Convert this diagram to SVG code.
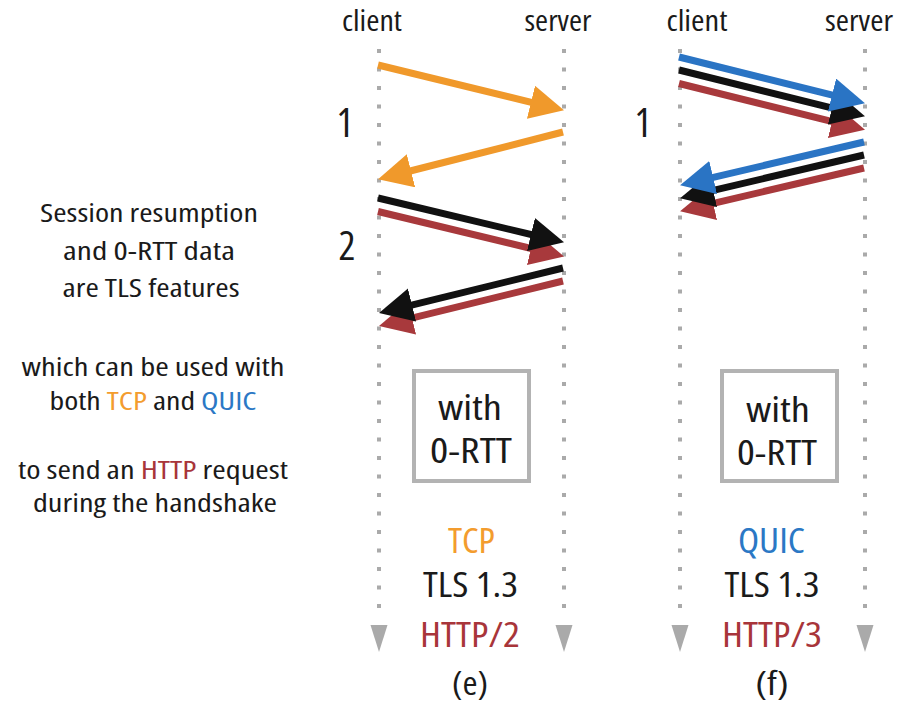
<svg xmlns="http://www.w3.org/2000/svg" width="922" height="725" viewBox="0 0 922 725">
<style>
text{font-family:"Open Sans","Liberation Sans",sans-serif;font-stretch:condensed;fill:#1a1a1a;text-anchor:middle}
.lbl{font-size:29px}
.side{font-size:26px}
.num{font-size:40px}
.big{font-size:35px}
.cap{font-size:32px}
.or{fill:#f39c2e}
.bl{fill:#2b78c5}
.rd{fill:#a8353a}
.life{stroke:#aaaaaa;stroke-width:4;stroke-dasharray:4 14.5;fill:none}
.tri{fill:#aaaaaa}
.box{fill:#ffffff;stroke:#b3b3b3;stroke-width:4}
.a{fill:none;stroke-width:7;stroke-linecap:butt}
.ao{stroke:#f0992b;marker-end:url(#hO)}
.ak{stroke:#111111;marker-end:url(#hK)}
.ar{stroke:#a8393c;marker-end:url(#hR)}
.ab{stroke:#2a74c4;marker-end:url(#hB)}
</style>
<defs>
<marker id="hO" markerUnits="userSpaceOnUse" markerWidth="36" markerHeight="36" refX="13" refY="17" orient="auto"><path d="M0,0 L34,17 L0,34 z" fill="#f0992b"/></marker>
<marker id="hK" markerUnits="userSpaceOnUse" markerWidth="36" markerHeight="36" refX="13" refY="17" orient="auto"><path d="M0,0 L34,17 L0,34 z" fill="#111111"/></marker>
<marker id="hR" markerUnits="userSpaceOnUse" markerWidth="36" markerHeight="36" refX="13" refY="17" orient="auto"><path d="M0,0 L34,17 L0,34 z" fill="#a8393c"/></marker>
<marker id="hB" markerUnits="userSpaceOnUse" markerWidth="36" markerHeight="36" refX="13" refY="17" orient="auto"><path d="M0,0 L34,17 L0,34 z" fill="#2a74c4"/></marker>
</defs>
<rect width="922" height="725" fill="#ffffff"/>

<g id="side-text" class="side">
<text x="149" y="222" textLength="218" lengthAdjust="spacingAndGlyphs">Session resumption</text>
<text x="149" y="260" textLength="172" lengthAdjust="spacingAndGlyphs">and 0-RTT data</text>
<text x="151" y="297" textLength="177" lengthAdjust="spacingAndGlyphs">are TLS features</text>
<text x="153" y="376" textLength="263" lengthAdjust="spacingAndGlyphs">which can be used with</text>
<text x="153" y="410" textLength="207" lengthAdjust="spacingAndGlyphs">both <tspan class="or">TCP</tspan> and <tspan class="bl">QUIC</tspan></text>
<text x="153" y="479" textLength="270" lengthAdjust="spacingAndGlyphs">to send an <tspan class="rd">HTTP</tspan> request</text>
<text x="155" y="512" textLength="244" lengthAdjust="spacingAndGlyphs">during the handshake</text>
</g>

<g id="lifelines">
<line class="life" x1="379" y1="49" x2="379" y2="611"/>
<line class="life" x1="564" y1="49" x2="564" y2="611"/>
<line class="life" x1="680" y1="49" x2="680" y2="611"/>
<line class="life" x1="865" y1="49" x2="865" y2="611"/>
<path class="tri" d="M370.5,625 L387.5,625 L379,652 z"/>
<path class="tri" d="M555.5,625 L572.5,625 L564,652 z"/>
<path class="tri" d="M671.5,625 L688.5,625 L680,652 z"/>
<path class="tri" d="M856.5,625 L873.5,625 L865,652 z"/>
</g>

<g id="diagram-e">
<text class="lbl" x="372" y="31" textLength="60" lengthAdjust="spacingAndGlyphs">client</text>
<text class="lbl" x="558" y="31" textLength="67" lengthAdjust="spacingAndGlyphs">server</text>
<text class="num" x="345" y="137">1</text>
<text class="num" x="347" y="260">2</text>
<rect class="box" x="414" y="371" width="115" height="110"/>
<text class="big" x="470" y="420" textLength="64" lengthAdjust="spacingAndGlyphs">with</text>
<text class="big" x="471" y="463" textLength="82" lengthAdjust="spacingAndGlyphs">0-RTT</text>
<text class="big or" x="471.5" y="553" textLength="47" lengthAdjust="spacingAndGlyphs">TCP</text>
<text class="big" x="470.5" y="597" textLength="95" lengthAdjust="spacingAndGlyphs">TLS 1.3</text>
<text class="big rd" x="470" y="647" textLength="100" lengthAdjust="spacingAndGlyphs">HTTP/2</text>
<text class="cap" x="470" y="695" textLength="36" lengthAdjust="spacingAndGlyphs">(e)</text>
</g>

<g id="diagram-f">
<text class="lbl" x="697" y="31" textLength="61" lengthAdjust="spacingAndGlyphs">client</text>
<text class="lbl" x="859" y="31" textLength="68" lengthAdjust="spacingAndGlyphs">server</text>
<text class="num" x="643" y="137">1</text>
<rect class="box" x="722" y="371" width="115" height="110"/>
<text class="big" x="778" y="422" textLength="64" lengthAdjust="spacingAndGlyphs">with</text>
<text class="big" x="777" y="465" textLength="80" lengthAdjust="spacingAndGlyphs">0-RTT</text>
<text class="big bl" x="771.5" y="553" textLength="67" lengthAdjust="spacingAndGlyphs">QUIC</text>
<text class="big" x="772" y="597" textLength="95" lengthAdjust="spacingAndGlyphs">TLS 1.3</text>
<text class="big rd" x="772" y="647" textLength="100" lengthAdjust="spacingAndGlyphs">HTTP/3</text>
<text class="cap" x="772" y="695" textLength="33" lengthAdjust="spacingAndGlyphs">(f)</text>
</g>

<g id="connectors">
<line class="a ao" x1="378" y1="65" x2="543.6" y2="105.3"/>
<line class="a ao" x1="563" y1="132" x2="398.4" y2="174"/>
<line class="a ar" x1="378" y1="211.5" x2="543.6" y2="251.5"/>
<line class="a ak" x1="378" y1="198" x2="543.6" y2="237.5"/>
<line class="a ar" x1="563" y1="281" x2="399.4" y2="321.1"/>
<line class="a ak" x1="563" y1="268" x2="399.4" y2="308.1"/>
<line class="a ar" x1="679" y1="83.5" x2="844.6" y2="124.7"/>
<line class="a ak" x1="679" y1="70" x2="844.6" y2="111.2"/>
<line class="a ab" x1="679" y1="57" x2="844.6" y2="98.2"/>
<line class="a ar" x1="864" y1="168" x2="700.5" y2="206.4"/>
<line class="a ak" x1="864" y1="155" x2="700.5" y2="193.4"/>
<line class="a ab" x1="864" y1="142" x2="700.5" y2="180.4"/>
</g>
</svg>
